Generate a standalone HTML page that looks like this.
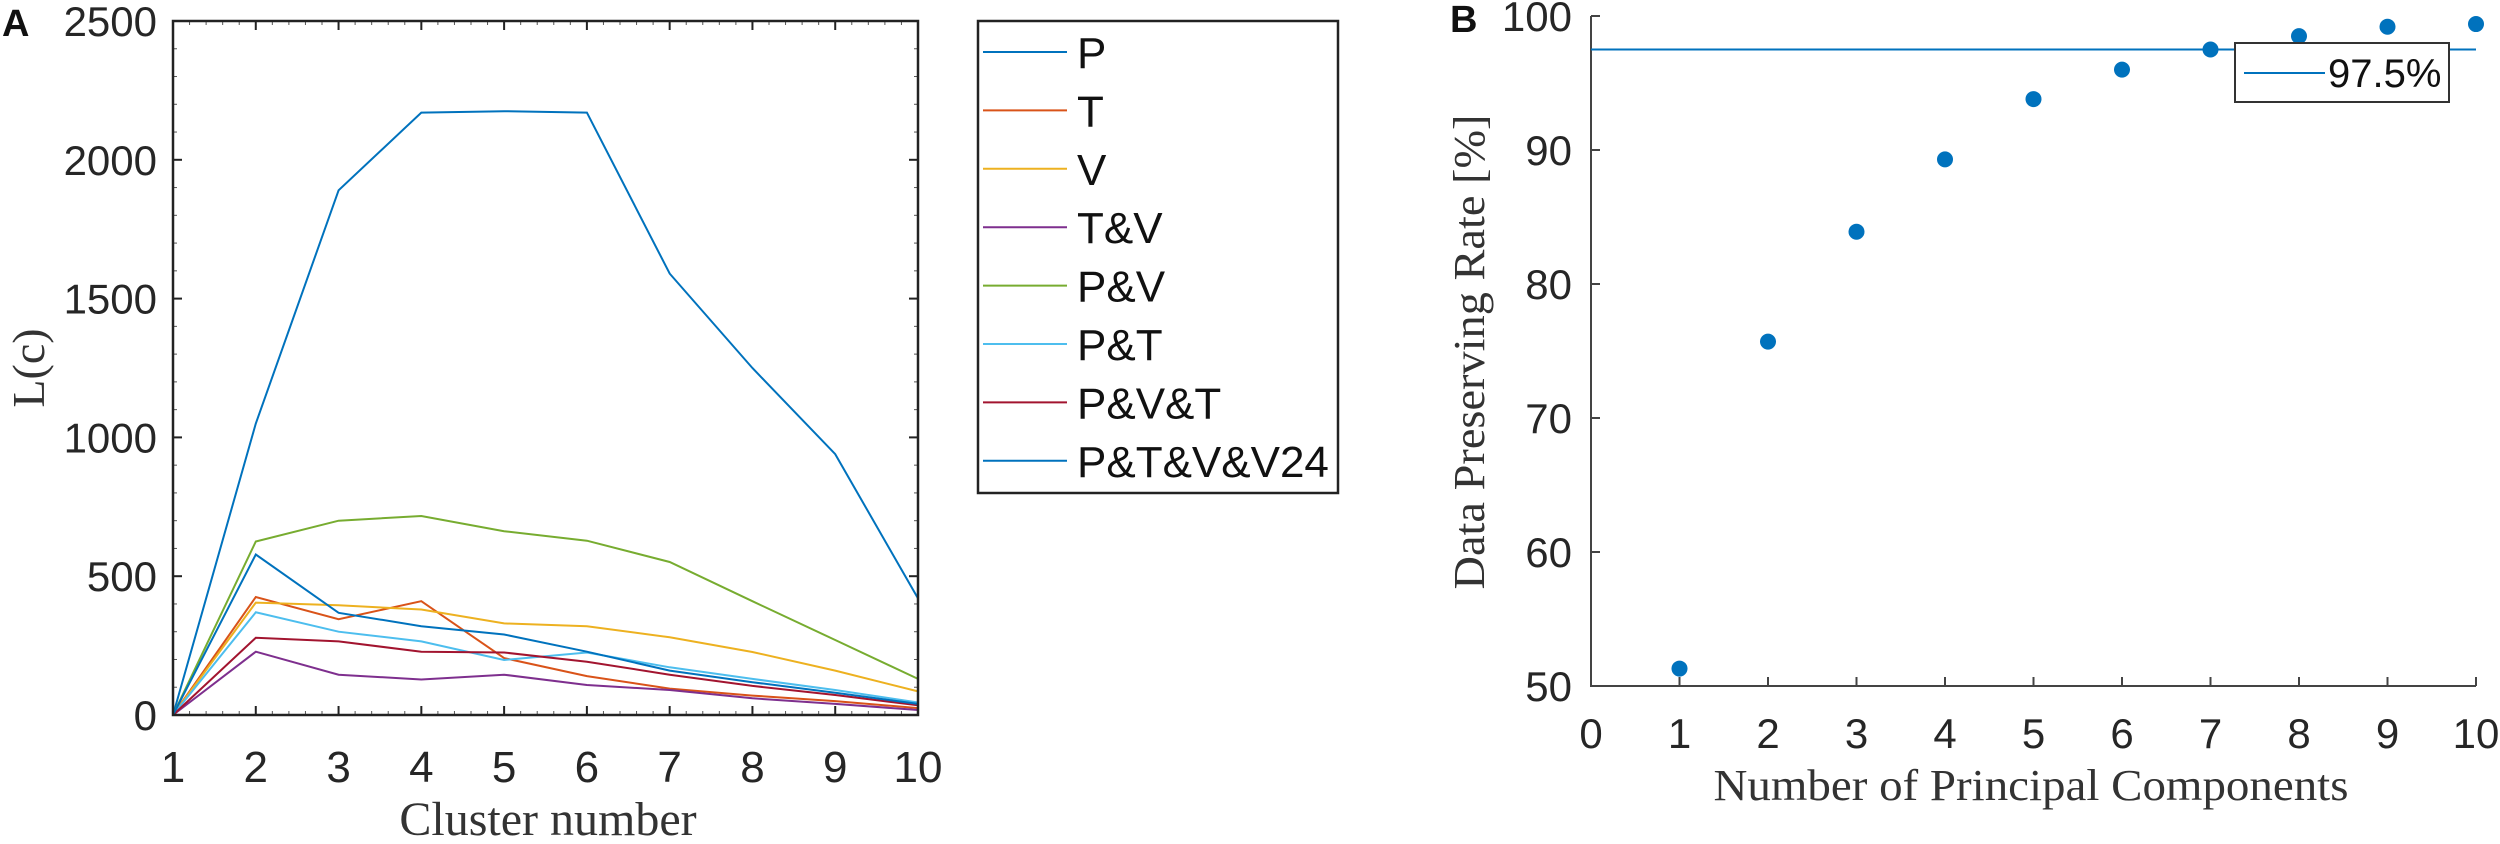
<!DOCTYPE html>
<html><head><meta charset="utf-8"><style>
html,body{margin:0;padding:0;background:#fff;}
svg{display:block;font-family:"Liberation Sans",sans-serif;}
.serif{font-family:"Liberation Serif",serif;}
</style></head><body>
<svg id="fig" width="2500" height="844" viewBox="0 0 2500 844" xmlns="http://www.w3.org/2000/svg">
<g id="panelA"></g>
<g id="panelB"></g>
</svg>
<script>
// ---- Panel A data ----
const clusterCats = [1,2,3,4,5,6,7,8,9,10];
const seriesNames = ["P","T","V","T&V","P&V","P&T","P&V&T","P&T&V&V24"];
const seriesColors = ["#0072BD","#D95319","#EDB120","#7E2F8E","#77AC30","#4DBEEE","#A2142F","#0072BD"];
const sP      = [0,1050,1890,2170,2175,2170,1590,1250,940,420];
const sT      = [0,425,345,410,205,140,95,70,50,25];
const sV      = [0,405,395,380,330,320,280,227,160,85];
const sTV     = [0,228,145,128,145,108,90,60,40,18];
const sPV     = [0,625,700,717,662,628,551,410,270,130];
const sPT     = [0,370,300,265,198,225,172,130,90,45];
const sPVT    = [0,278,265,228,225,192,145,105,72,35];
const sPTVV24 = [0,578,368,320,290,228,160,118,80,40];
const yTicksA = [0,500,1000,1500,2000,2500];
// ---- Panel B data ----
const pcCats = [1,2,3,4,5,6,7,8,9,10];
const pcRates = [51.3,75.7,83.9,89.3,93.8,96.0,97.5,98.5,99.2,99.4];
const thresholdVal = [97.5];
const thresholdLabel = ["97.5%"];
const xTicksB = [0,1,2,3,4,5,6,7,8,9,10];
const yTicksB = [50,60,70,80,90,100];

const NS="http://www.w3.org/2000/svg";
function mk(tag, attrs, parent, text){
  const e=document.createElementNS(NS,tag);
  for(const k in attrs) e.setAttribute(k,attrs[k]);
  if(text!==undefined) e.textContent=text;
  parent.appendChild(e); return e;
}
// ---------- Panel A ----------
const A=document.getElementById('panelA');
const ax0=173, ax1=918, ay0=715, ay1=21;
const xA=v=>ax0+(v-1)*(ax1-ax0)/9;
const yA=v=>ay0-v*(ay0-ay1)/2500;
const allSeries=[sP,sT,sV,sTV,sPV,sPT,sPVT,sPTVV24];
for(let v=100;v<2500;v+=100){
  if(v%500===0) continue;
  let t=mk('line',{x1:ax0,x2:ax0+4,y1:yA(v),y2:yA(v),stroke:'#555','stroke-width':1},A);
   
  t=mk('line',{x1:ax1,x2:ax1-4,y1:yA(v),y2:yA(v),stroke:'#555','stroke-width':1},A);
   
}
for(let v=1.2;v<10;v+=0.2){
  if(Math.abs(v-Math.round(v))<0.01) continue;
  let t=mk('line',{x1:xA(v),x2:xA(v),y1:ay0,y2:ay0-4,stroke:'#555','stroke-width':1},A);
   
  t=mk('line',{x1:xA(v),x2:xA(v),y1:ay1,y2:ay1+4,stroke:'#555','stroke-width':1},A);
   
}
yTicksA.forEach(v=>{
  let t=mk('line',{x1:ax0,x2:ax0+9,y1:yA(v),y2:yA(v),stroke:'#222','stroke-width':2},A);
   
  t=mk('line',{x1:ax1,x2:ax1-9,y1:yA(v),y2:yA(v),stroke:'#222','stroke-width':2},A);
   
  const l=mk('text',{x:157,y:yA(v)+15,'text-anchor':'end','font-size':42,fill:'#262626'},A,String(v));
   
});
clusterCats.forEach(c=>{
  let t=mk('line',{x1:xA(c),x2:xA(c),y1:ay0,y2:ay0-9,stroke:'#222','stroke-width':2},A);
   
  t=mk('line',{x1:xA(c),x2:xA(c),y1:ay1,y2:ay1+9,stroke:'#222','stroke-width':2},A);
   
  const l=mk('text',{x:xA(c),y:782,'text-anchor':'middle','font-size':44,fill:'#262626'},A,String(c));
   
});
allSeries.forEach((s,i)=>{
  const d=s.map((v,j)=>(j?'L':'M')+xA(clusterCats[j]).toFixed(1)+' '+yA(v).toFixed(1)).join(' ');
  const p=mk('path',{d:d,fill:'none',stroke:seriesColors[i],'stroke-width':2},A);
  
  
});
let fr=mk('rect',{x:ax0,y:ay1,width:ax1-ax0,height:ay0-ay1,fill:'none',stroke:'#222','stroke-width':2.5},A);
 
let tt=mk('text',{x:548,y:835,'text-anchor':'middle','font-size':48,fill:'#333',class:'serif'},A,'Cluster number');
 
tt=mk('text',{x:0,y:0,'text-anchor':'middle','font-size':46,fill:'#333',class:'serif',transform:'translate(44,368) rotate(-90)'},A,'L(c)');
 
tt=mk('text',{x:2,y:36,'font-size':38,'font-weight':'bold',fill:'#111'},A,'A');
 
const lg=mk('g',{},A);
 
let lb=mk('rect',{x:978,y:21,width:360,height:472,fill:'#fff',stroke:'#222','stroke-width':2.5},lg);
 
seriesNames.forEach((n,i)=>{
  const cy=52+i*58.4;
  const e=mk('g',{},lg);
   
  mk('line',{x1:983,x2:1067,y1:cy,y2:cy,stroke:seriesColors[i],'stroke-width':2},e);
  mk('text',{x:1077,y:cy+16,'font-size':44,fill:'#111'},e,n);
});
// ---------- Panel B ----------
const B=document.getElementById('panelB');
const bx0=1591, bx1=2476, by0=686, by1=16;
const xB=v=>bx0+v*(bx1-bx0)/10;
const yB=v=>by0-(v-50)*(by0-by1)/50;
let axl=mk('path',{d:`M${bx0} ${by1} L${bx0} ${by0} L${bx1} ${by0}`,fill:'none',stroke:'#444','stroke-width':2},B);
 
yTicksB.forEach(v=>{
  const t=mk('line',{x1:bx0,x2:bx0+9,y1:yB(v),y2:yB(v),stroke:'#444','stroke-width':2},B);
   
  const l=mk('text',{x:1572,y:yB(v)+15,'text-anchor':'end','font-size':42,fill:'#262626'},B,String(v));
   
});
xTicksB.forEach(v=>{
  const t=mk('line',{x1:xB(v),x2:xB(v),y1:by0,y2:by0-9,stroke:'#444','stroke-width':2},B);
   
  const l=mk('text',{x:xB(v),y:748,'text-anchor':'middle','font-size':42,fill:'#262626'},B,String(v));
   
});
let thr=mk('line',{x1:bx0,x2:bx1,y1:yB(thresholdVal[0]),y2:yB(thresholdVal[0]),stroke:'#0072BD','stroke-width':2},B);
 
pcCats.forEach((c,i)=>{
  const p=mk('circle',{cx:xB(c),cy:yB(pcRates[i]),r:8,fill:'#0072BD'},B);
   
});
const lg2=mk('g',{},B);
 
mk('rect',{x:2235,y:43,width:214,height:59,fill:'#fff',stroke:'#333','stroke-width':2},lg2);
mk('line',{x1:2244,x2:2325,y1:73,y2:73,stroke:'#0072BD','stroke-width':2},lg2);
mk('text',{x:2328,y:87,'font-size':40,fill:'#111'},lg2,thresholdLabel[0]);
tt=mk('text',{x:2031,y:800,'text-anchor':'middle','font-size':44,fill:'#333',class:'serif',textLength:635,lengthAdjust:'spacingAndGlyphs'},B,'Number of Principal Components');
 
tt=mk('text',{x:0,y:0,'text-anchor':'middle','font-size':44,fill:'#333',class:'serif',transform:'translate(1484,352) rotate(-90)',textLength:475,lengthAdjust:'spacingAndGlyphs'},B,'Data Preserving Rate [%]');
 
tt=mk('text',{x:1450,y:32,'font-size':38,'font-weight':'bold',fill:'#111'},B,'B');
 
</script>
</body></html>
